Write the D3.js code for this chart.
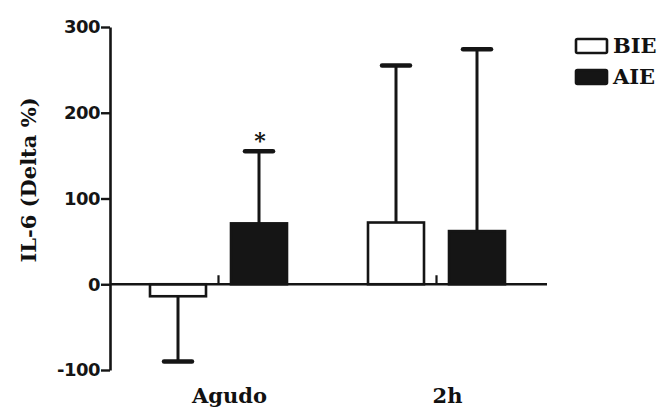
<!DOCTYPE html>
<html>
<head>
<meta charset="utf-8">
<script src="https://cdn.jsdelivr.net/npm/d3@7"></script>
<style>
  body { margin: 0; background: #fff; }
  svg text { fill: #111; }
</style>
</head>
<body>
<div id="chart"></div>
<script>
const groups = ['Agudo', '2h'];
const series = ['BIE', 'AIE'];
const bieMean = [-14, 72];
const bieErr = [76, 183];
const aieMean = [71, 62];
const aieErr = [84, 212];
const yTicks = [-100, 0, 100, 200, 300];
const marks = ['*', ''];  // significance marks above AIE bars

const ink = '#151515';
const serif = '"DejaVu Serif", serif';

const svg = d3.select('#chart').append('svg')
  .attr('width', 669)
  .attr('height', 411);

const x = d3.scaleBand().domain(groups).range([150, 505]).paddingInner(81 / 218).paddingOuter(0);
const xs = d3.scaleBand().domain(series).range([0, x.bandwidth()]).paddingInner(25 / 81).paddingOuter(0);
const y = d3.scaleLinear().domain([-100, 300]).range([370, 27]);

// build rows from the arrays
const rows = [];
groups.forEach((g, i) => {
  rows.push({ group: g, s: 'BIE', mean: bieMean[i], err: bieErr[i], mark: '' });
  rows.push({ group: g, s: 'AIE', mean: aieMean[i], err: aieErr[i], mark: marks[i] });
});

// y axis
const yAxis = svg.append('g')
  .attr('transform', 'translate(110,0)')
  .call(d3.axisLeft(y).tickValues(yTicks).tickSize(9).tickSizeOuter(0).tickPadding(1)
    .tickFormat(d => String(d)));
yAxis.select('.domain').attr('stroke', ink).attr('stroke-width', 2.6);
yAxis.selectAll('.tick line').attr('stroke', ink).attr('stroke-width', 2.4);
yAxis.selectAll('.tick text')
  .attr('font-family', '"DejaVu Sans", sans-serif')
  .attr('font-weight', 'bold')
  .attr('font-size', 18)
  .attr('letter-spacing', -0.5)
  .style('fill', ink);

// error bars (drawn first so the bars sit on top)
const eb = svg.append('g');
rows.forEach(d => {
  const cx = x(d.group) + xs(d.s) + xs.bandwidth() / 2;
  const end = d.mean >= 0 ? d.mean + d.err : d.mean - d.err;
  eb.append('line')
    .attr('x1', cx).attr('x2', cx)
    .attr('y1', y(d.mean)).attr('y2', y(end))
    .attr('stroke', ink).attr('stroke-width', 3);
  eb.append('line')
    .attr('x1', cx - 14).attr('x2', cx + 14)
    .attr('y1', y(end)).attr('y2', y(end))
    .attr('stroke', ink).attr('stroke-width', 4.5)
    .attr('stroke-linecap', 'round');
  if (d.mark) {
    svg.append('text')
      .attr('x', cx + 1)
      .attr('y', y(end) - 3)
      .attr('text-anchor', 'middle')
      .attr('font-family', serif)
      .attr('font-weight', 'bold')
      .attr('font-size', 22)
      .text(d.mark);
  }
});

// bars
svg.append('g').selectAll('rect')
  .data(rows)
  .enter()
  .append('rect')
  .attr('x', d => x(d.group) + xs(d.s))
  .attr('width', xs.bandwidth())
  .attr('y', d => y(Math.max(0, d.mean)))
  .attr('height', d => Math.abs(y(d.mean) - y(0)))
  .attr('fill', d => d.s === 'AIE' ? ink : '#fff')
  .attr('stroke', ink)
  .attr('stroke-width', 2.6);

// x axis: baseline plus small upward ticks at group centres
const xAxis = svg.append('g')
  .attr('transform', `translate(0,${y(0)})`)
  .call(d3.axisBottom(x).tickSize(-9).tickSizeOuter(0).tickFormat(''));
xAxis.select('.domain').remove();
xAxis.selectAll('.tick line').attr('stroke', ink).attr('stroke-width', 2.2);
svg.append('line')
  .attr('x1', 110).attr('x2', 547)
  .attr('y1', y(0)).attr('y2', y(0))
  .attr('stroke', ink).attr('stroke-width', 2.6);

// group labels
svg.append('g').selectAll('text')
  .data(groups)
  .enter()
  .append('text')
  .attr('x', d => x(d) + x.bandwidth() / 2 + 11)
  .attr('y', 403)
  .attr('text-anchor', 'middle')
  .attr('font-family', serif)
  .attr('font-weight', 'bold')
  .attr('font-size', 21)
  .text(d => d);

// y title
svg.append('text')
  .attr('transform', 'translate(36,180) rotate(-90)')
  .attr('text-anchor', 'middle')
  .attr('font-family', serif)
  .attr('font-weight', 'bold')
  .attr('font-size', 21)
  .text('IL-6 (Delta %)');

// legend
const legend = svg.append('g').selectAll('g')
  .data(series)
  .enter()
  .append('g')
  .attr('transform', (d, i) => `translate(576,${39 + i * 31})`);
legend.append('rect')
  .attr('width', 31)
  .attr('height', 14)
  .attr('rx', 1.5)
  .attr('fill', d => d === 'AIE' ? ink : '#fff')
  .attr('stroke', ink)
  .attr('stroke-width', 2.6);
legend.append('text')
  .attr('x', 37)
  .attr('y', 14)
  .attr('font-family', serif)
  .attr('font-weight', 'bold')
  .attr('font-size', 21)
  .text(d => d);
</script>
</body>
</html>
